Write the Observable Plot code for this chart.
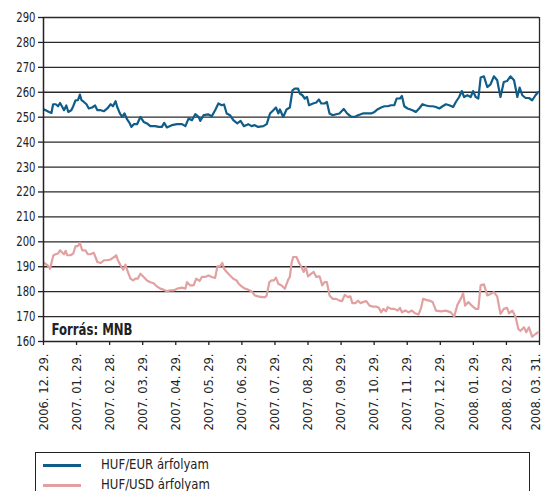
<!DOCTYPE html>
<html>
<head>
<meta charset="utf-8">
<script src="https://cdn.jsdelivr.net/npm/d3@7"></script>
<script src="https://cdn.jsdelivr.net/npm/@observablehq/plot@0.6"></script>
<style>
  html, body { margin: 0; padding: 0; background: #fff; }
  #wrap { position: relative; width: 544px; height: 491px; overflow: hidden; }
  .legend { position: absolute; left: 35px; top: 452px; width: 495px; height: 60px; border: 1px solid #222; box-sizing: border-box;
    font-family: 'Liberation Sans Narrow','Arial Narrow','DejaVu Sans Condensed',sans-serif; font-size: 14px; color: #222; }
  .item { position: absolute; left: 0; height: 18px; }
  .sw { position: absolute; left: 7px; top: 8px; width: 38px; height: 0; border-top: 3px solid; }
  .lb { position: absolute; left: 65px; top: 0; white-space: nowrap; transform: scaleX(0.93); transform-origin: left center; }
</style>
</head>
<body>
<div id="wrap"></div>
<script>
// Tick labels (monthly, evenly spaced categories)
const tickLabels = ["2006. 12. 29.","2007. 01. 29.","2007. 02. 28.","2007. 03. 29.","2007. 04. 29.","2007. 05. 29.","2007. 06. 29.","2007. 07. 29.","2007. 08. 29.","2007. 09. 29.","2007. 10. 29.","2007. 11. 29.","2007. 12. 29.","2008. 01. 29.","2008. 02. 29.","2008. 03. 31."];
const seriesNames = ["HUF/EUR árfolyam", "HUF/USD árfolyam"];
const seriesColors = ["#0f5d88", "#e2a0a0"];

// HUF/EUR: position in months since 2006.12.29, and value
const eurT = [0.02,0.17,0.24,0.29,0.37,0.44,0.50,0.57,0.62,0.69,0.75,0.84,0.90,0.97,1.04,1.10,1.15,1.22,1.30,1.37,1.47,1.56,1.63,1.73,1.83,1.93,2.03,2.10,2.18,2.23,2.31,2.38,2.45,2.53,2.61,2.66,2.73,2.83,2.93,3.03,3.13,3.23,3.38,3.48,3.58,3.65,3.73,3.88,4.04,4.19,4.29,4.39,4.49,4.59,4.69,4.74,4.84,4.99,5.09,5.19,5.29,5.39,5.46,5.54,5.64,5.74,5.86,5.96,6.06,6.19,6.29,6.39,6.49,6.65,6.75,6.85,6.95,7.03,7.10,7.15,7.25,7.35,7.45,7.53,7.60,7.70,7.75,7.83,7.90,7.97,8.03,8.15,8.25,8.33,8.40,8.50,8.57,8.65,8.75,8.85,8.95,9.08,9.18,9.31,9.41,9.51,9.66,9.81,9.91,10.01,10.11,10.21,10.31,10.41,10.51,10.61,10.68,10.78,10.84,10.91,11.01,11.16,11.26,11.36,11.46,11.57,11.67,11.77,11.87,11.97,12.07,12.17,12.27,12.39,12.47,12.57,12.65,12.72,12.82,12.92,12.99,13.07,13.15,13.22,13.32,13.42,13.52,13.62,13.72,13.82,13.92,14.02,14.12,14.23,14.33,14.40,14.48,14.58,14.68,14.78,14.88,14.96];
const eurV = [253.1,252.1,251.7,255.2,255.2,254.4,255.7,254.1,252.8,254.7,252.1,252.8,254.4,256.8,256.8,259.1,256.8,256.1,255.2,253.5,253.9,254.7,252.8,252.8,252.4,253.5,255.2,254.4,256.4,254.1,251.5,250.1,251.5,249.1,247.5,246.1,247.2,247.2,250.1,248.1,247.5,246.4,246.4,246.1,246.1,247.7,245.9,246.8,247.2,247.2,246.4,249.5,248.8,251.2,250.1,248.5,250.8,251.1,250.4,252.8,255.5,254.8,255.1,251.5,250.8,248.8,247.5,248.5,246.4,247.2,246.4,246.8,246.1,246.4,247.2,251.5,252.8,253.9,251.5,253.1,250.1,253.1,253.9,260.8,261.5,261.5,259.5,258.8,257.5,258.1,254.8,255.5,255.9,257.1,255.5,255.5,256.1,251.5,250.8,251.2,251.5,253.3,251.5,250.1,250.1,250.8,251.5,251.5,251.5,252.1,253.2,253.9,254.4,254.4,254.8,254.8,257.5,257.5,258.5,254.4,253.5,252.8,252.1,253.5,255.2,254.7,254.4,254.4,254.1,253.5,254.4,255.2,254.8,254.1,256.1,258.1,260.5,258.1,258.8,258.1,260.5,258.1,257.5,265.9,266.4,262.1,263.2,266.4,264.8,258.1,264.1,264.5,266.4,264.8,258.1,261.9,258.8,257.7,257.7,256.8,258.8,260.1];

// HUF/USD
const usdT = [0.02,0.12,0.20,0.24,0.30,0.37,0.44,0.50,0.57,0.62,0.67,0.72,0.82,0.90,0.97,1.04,1.10,1.17,1.27,1.34,1.42,1.52,1.63,1.73,1.83,1.93,2.03,2.13,2.20,2.25,2.33,2.41,2.48,2.55,2.63,2.71,2.78,2.85,2.93,3.03,3.13,3.23,3.33,3.43,3.53,3.63,3.73,3.83,3.93,4.04,4.19,4.29,4.34,4.44,4.54,4.62,4.72,4.79,4.89,4.99,5.09,5.19,5.26,5.34,5.41,5.46,5.54,5.64,5.74,5.84,5.89,5.99,6.09,6.19,6.29,6.39,6.49,6.60,6.70,6.75,6.83,6.90,6.97,7.03,7.10,7.20,7.30,7.40,7.45,7.50,7.55,7.65,7.73,7.80,7.87,7.93,8.00,8.10,8.17,8.25,8.35,8.43,8.50,8.57,8.65,8.75,8.85,8.95,9.03,9.11,9.21,9.28,9.34,9.44,9.51,9.58,9.66,9.76,9.86,9.96,10.06,10.14,10.21,10.28,10.36,10.41,10.51,10.61,10.71,10.78,10.84,10.94,11.04,11.14,11.24,11.34,11.42,11.48,11.57,11.67,11.77,11.87,12.02,12.17,12.32,12.42,12.52,12.62,12.69,12.75,12.85,12.95,13.07,13.15,13.22,13.32,13.42,13.52,13.62,13.72,13.82,13.92,14.02,14.08,14.18,14.28,14.36,14.43,14.53,14.60,14.68,14.78,14.88,14.96];
const usdV = [191.5,190.6,189.2,191.5,194.6,195.0,195.3,196.6,195.6,195.0,196.4,194.6,194.6,195.3,198.3,198.3,199.6,196.6,196.6,195.0,195.0,195.6,191.9,191.5,192.6,192.6,192.9,193.9,194.6,192.6,190.6,188.8,190.8,187.9,185.2,184.5,185.2,185.2,187.2,185.9,184.5,183.8,183.4,182.1,181.2,180.8,180.2,180.5,180.5,181.2,181.6,181.2,183.8,182.5,182.5,185.2,184.3,185.9,185.9,186.5,185.9,185.5,190.2,190.2,191.5,189.2,187.9,186.5,185.2,184.5,183.4,182.1,181.2,180.8,180.2,178.5,178.1,177.8,177.8,178.5,183.8,184.5,184.5,185.6,183.2,182.5,181.2,184.8,185.9,191.3,193.9,193.9,191.5,189.9,187.9,189.9,186.1,187.2,187.9,185.9,186.1,182.5,183.8,183.8,178.5,177.1,177.1,176.4,176.2,178.7,177.8,178.1,175.4,175.4,176.4,175.4,175.8,176.2,174.4,174.0,174.0,173.5,171.7,173.1,172.1,173.8,173.1,173.1,172.4,173.5,171.7,172.4,171.7,172.4,171.3,170.8,173.5,177.1,176.7,176.4,175.8,172.4,172.1,172.4,171.7,170.0,174.8,177.1,179.4,174.4,175.8,174.4,173.1,173.1,182.5,182.9,178.5,179.1,179.8,178.1,171.1,173.1,173.5,171.3,172.4,169.7,165.0,164.3,165.7,163.7,165.7,161.9,163.0,163.7];

const yTicks = d3.range(160, 300, 10);
const eur = eurT.map((t, i) => ({t, v: eurV[i]}));
const usd = usdT.map((t, i) => ({t, v: usdV[i]}));

const font = "'Liberation Sans Narrow','Arial Narrow','DejaVu Sans Condensed',sans-serif";

const chart = Plot.plot({
  width: 544,
  height: 450,
  marginTop: 17,
  marginLeft: 43,
  marginRight: 5,
  marginBottom: 109,
  style: { fontFamily: font, fontSize: "14px", color: "#222", background: "#fff" },
  x: { domain: [0, tickLabels.length - 1] },
  y: { domain: [160, 290] },
  marks: [
    Plot.ruleY(yTicks.slice(1), { stroke: "#2a2a2a", strokeWidth: 1.3 }),
    Plot.ruleX([tickLabels.length - 1], { stroke: "#2a2a2a", strokeWidth: 1.3 }),
    Plot.line(usd, { x: "t", y: "v", stroke: seriesColors[1], strokeWidth: 2.2 }),
    Plot.line(eur, { x: "t", y: "v", stroke: seriesColors[0], strokeWidth: 2.2 }),
    Plot.ruleX([0], { stroke: "#222", strokeWidth: 1.5 }),
    Plot.ruleY([160], { stroke: "#222", strokeWidth: 1.5 }),
    Plot.axisY({ ticks: yTicks, tickSize: 5, tickPadding: 3, label: null, stroke: "#222", strokeWidth: 1.3 }),
    Plot.axisX({ ticks: d3.range(tickLabels.length), tickFormat: i => tickLabels[i], tickRotate: -90, tickSize: 4, tickPadding: 8, fontSize: 13, label: null, stroke: "#222", strokeWidth: 1.3 }),
    Plot.text(["Forrás: MNB"], { frameAnchor: "bottom-left", dx: 8, dy: -7, fontWeight: "bold", fontSize: 15, fill: "#222", textAnchor: "start" })
  ]
});

// Condense the axis texts to match the narrow typeface of the original
const sel = d3.select(chart);
const xLabels = sel.selectAll('g[aria-label="x-axis tick label"] text')
  .attr("textLength", 77).attr("lengthAdjust", "spacingAndGlyphs");
// keep the last (edge) label inside the picture
const lastLabel = xLabels.nodes()[xLabels.size() - 1];
if (lastLabel) lastLabel.setAttribute("transform", "translate(-4,0) " + (lastLabel.getAttribute("transform") || ""));
sel.selectAll('g[aria-label="y-axis tick label"] text')
  .each(function() { const n = this.textContent.length; d3.select(this).attr("textLength", n * 6.4).attr("lengthAdjust", "spacingAndGlyphs"); });
sel.selectAll('g[aria-label="text"] text')
  .attr("textLength", 81).attr("lengthAdjust", "spacingAndGlyphs");

const wrap = document.getElementById("wrap");
wrap.appendChild(chart);

const legend = document.createElement("div");
legend.className = "legend";
seriesNames.forEach((name, i) => {
  const item = document.createElement("div");
  item.className = "item";
  item.style.top = (3 + i * 20) + "px";
  item.innerHTML = `<div class="sw" style="border-color:${seriesColors[i]}"></div><div class="lb">${name}</div>`;
  legend.appendChild(item);
});
wrap.appendChild(legend);
</script>
</body>
</html>
